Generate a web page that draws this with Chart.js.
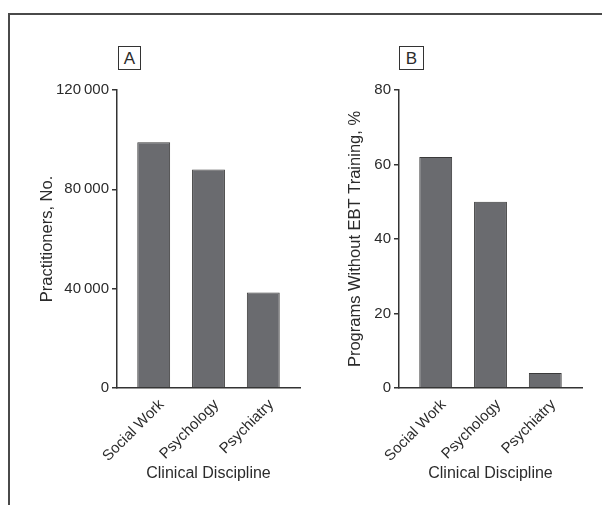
<!DOCTYPE html>
<html>
<head>
<meta charset="utf-8">
<script src="https://cdn.jsdelivr.net/npm/chart.js@4.4.1/dist/chart.umd.min.js"></script>
<style>
  html, body { margin: 0; padding: 0; background: #fff; }
  body { width: 602px; height: 505px; position: relative; overflow: hidden; font-family: "Liberation Sans", Arial, sans-serif; }
  #frame { position: absolute; left: 8px; top: 13px; right: -4px; bottom: -4px; border-top: 2px solid #4a4a4a; border-left: 2px solid #4a4a4a; }
  .panel { position: absolute; top: 0; height: 505px; }
  #pA { left: 0; width: 310px; }
  #pB { left: 301px; width: 301px; }
  .tag { position: absolute; top: 46px; height: 22px; border: 1px solid #333; font-size: 17px; line-height: 23px; text-align: center; color: #2b2b2b; background: #fff; }
  #tagA { left: 118px; width: 21px; }
  #tagB { left: 399px; width: 23px; }
</style>
</head>
<body>
<div id="frame"></div>
<div class="panel" id="pA"><canvas id="cA" width="310" height="505"></canvas></div>
<div class="panel" id="pB"><canvas id="cB" width="301" height="505"></canvas></div>
<div class="tag" id="tagA">A</div>
<div class="tag" id="tagB">B</div>
<script>
// ---- data ----
const categories = ["Social Work", "Psychology", "Psychiatry"];
const practitioners = [99000, 88000, 38500];
const programsWithoutEBT = [62, 50, 4];
const ticksA = [0, 40000, 80000, 120000];
const ticksB = [0, 20, 40, 60, 80];
const titleA = "Practitioners, No.";
const titleB = "Programs Without EBT Training, %";
const xTitle = "Clinical Discipline";

Chart.defaults.font.family = '"Liberation Sans", Arial, sans-serif';
Chart.defaults.color = '#2b2b2b';
Chart.defaults.animation = false;

function fmt(v) {
  return String(v).replace(/\B(?=(\d{3})+(?!\d))/g, '\u2009');
}

function makeChart(id, values, yTicks, yTitle, pad, yAxisWidth) {
  const axisColor = '#333';
  return new Chart(document.getElementById(id), {
    type: 'bar',
    data: {
      datasets: [{
        data: values.map((v, i) => ({ x: i + 1, y: v })),
        backgroundColor: '#6a6b6f',
        borderColor: '#3a3a3a',
        borderWidth: 1,
        categoryPercentage: 1,
        barPercentage: 0.6
      }]
    },
    options: {
      responsive: false,
      animation: false,
      layout: { padding: pad },
      plugins: { legend: { display: false }, tooltip: { enabled: false } },
      scales: {
        x: {
          type: 'linear',
          offset: false,
          bounds: 'data',
          grace: 0,
          min: 0.33,
          max: 3.67,
          afterBuildTicks: s => { s.ticks = categories.map((c, i) => ({ value: i + 1 })); },
          afterFit: s => { s.height = 505 - pad.bottom - 388; },
          grid: { display: false, drawTicks: false },
          border: { display: true, color: axisColor, width: 1.5 },
          ticks: {
            autoSkip: false,
            maxRotation: 45,
            minRotation: 45,
            padding: 8,
            labelOffset: 8,
            font: { size: 15 },
            callback: v => categories[Math.round(v) - 1]
          },
          title: { display: true, text: xTitle, font: { size: 16 }, padding: 0 }
        },
        y: {
          min: yTicks[0],
          max: yTicks[yTicks.length - 1],
          afterBuildTicks: s => { s.ticks = yTicks.map(v => ({ value: v })); },
          afterFit: s => { s.width = yAxisWidth; },
          grid: { drawOnChartArea: false, drawTicks: true, tickLength: 5, color: axisColor, lineWidth: 1.5 },
          border: { display: true, color: axisColor, width: 1.5 },
          ticks: { padding: 3, font: { size: 15 }, callback: v => fmt(v) },
          title: { display: true, text: yTitle, font: { size: 16.5 }, padding: 0 }
        }
      }
    }
  });
}

makeChart('cA', practitioners, ticksA, titleA, { left: 38, top: 90, right: 10, bottom: 22 }, 79);
makeChart('cB', programsWithoutEBT, ticksB, titleB, { left: 45, top: 90, right: 20, bottom: 22 }, 53);
</script>
</body>
</html>
